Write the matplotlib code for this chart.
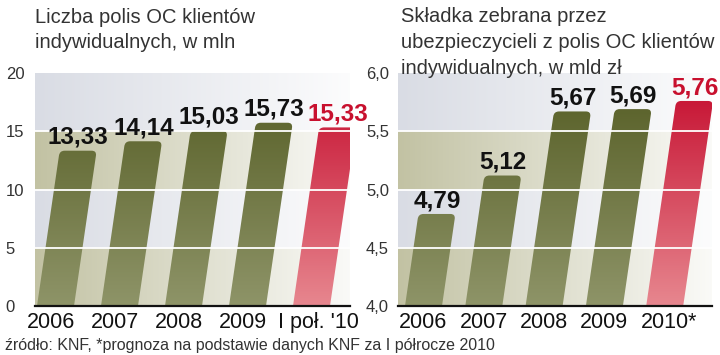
import numpy as np
import matplotlib.pyplot as plt
from matplotlib.path import Path
from matplotlib.patches import PathPatch
from matplotlib.colors import to_rgb

# dane
lata_lewy = ['2006', '2007', '2008', '2009', "I poł. '10"]
polisy = [13.33, 14.14, 15.03, 15.73, 15.33]
lata_prawy = ['2006', '2007', '2008', '2009', '2010*']
skladka = [4.79, 5.12, 5.67, 5.69, 5.76]
tyt_lewy = ['Liczba polis OC klientów', 'indywidualnych, w mln']
tyt_prawy = ['Składka zebrana przez', 'ubezpieczycieli z polis OC klientów',
             'indywidualnych, w mld zł']
zrodlo = 'źródło: KNF, *prognoza na podstawie danych KNF za I półrocze 2010'

FONT = ['Liberation Sans', 'DejaVu Sans']
W, H = 720, 355

fig = plt.figure(figsize=(7.2, 3.55), dpi=100)


def bar_path(x0, w, y0, v, s, rx, ry):
    xr = x0 + w + s * (1 - ry / (v - y0))
    xl = x0 + s * (1 - ry / (v - y0))
    verts = [(x0, y0), (x0 + w, y0), (xr, v - ry), (x0 + w + s, v),
             (x0 + w + s - rx, v), (x0 + s + rx, v), (x0 + s, v),
             (xl, v - ry), (x0, y0)]
    codes = [Path.MOVETO, Path.LINETO, Path.LINETO, Path.CURVE3, Path.CURVE3,
             Path.LINETO, Path.CURVE3, Path.CURVE3, Path.CLOSEPOLY]
    return Path(verts, codes)


def gradient(top, bottom, n=200):
    t = np.linspace(0, 1, n)[:, None]
    a, b = np.array(to_rgb(bottom)), np.array(to_rgb(top))
    return (a * (1 - t) + b * t)[:, None, :]


def fmt2(v):
    return f'{v:.2f}'.replace('.', ',')


def fmt1(v):
    return f'{v:.1f}'.replace('.', ',')


def fmt0(v):
    return f'{v:g}'


def panel(left_px, width_px, pitch_px, bar0_px, cats, vals, ymin, ymax, step,
          tickfmt, ypad, xshift_px, last_shift_px):
    ax = fig.add_axes([left_px / W, 49 / H, width_px / W, 233 / H])
    xlim = ((left_px - bar0_px) / pitch_px, (left_px + width_px - bar0_px) / pitch_px)
    ax.set_xlim(*xlim)
    ax.set_ylim(ymin, ymax)
    ext = [xlim[0], xlim[1], ymin, ymax]

    # tlo: poziome pasy blednace w prawo
    ny, nx = 400, 300
    yy = np.linspace(ymin, ymax, ny, endpoint=False)[:, None]
    band = np.floor((yy - ymin) / step + 1e-9).astype(int)
    olive = np.array(to_rgb('#c2c2a3'))
    blue = np.array(to_rgb('#d9dce4'))
    base = np.where((band % 2 == 0)[..., None], olive, blue)
    t = np.linspace(0, 1, nx)[None, :, None] * 0.92
    bg = base * (1 - t) + np.ones(3) * t
    ax.imshow(bg, extent=ext, origin='lower', aspect='auto', zorder=0)

    w = 37 / pitch_px
    k = 34 / pitch_px
    rx = 5 / pitch_px
    ry = 5 / 233 * (ymax - ymin)
    for i, v in enumerate(vals):
        red = i == len(vals) - 1
        s = k * (v - ymin) / (ymax - ymin)
        patch = PathPatch(bar_path(i, w, ymin, v, s, rx, ry), facecolor='none',
                          edgecolor='none', transform=ax.transData)
        ax.add_patch(patch)
        g = gradient('#c40a2c', '#e7878f') if red else gradient('#545c23', '#8e9468')
        im = ax.imshow(g, extent=ext, origin='lower', aspect='auto', zorder=2)
        im.set_clip_path(patch)
        ax.annotate(fmt2(v), (i + s + w / 2, v), xytext=(0, 5), textcoords='offset points',
                    ha='center', va='baseline', fontsize=17.5, fontweight='bold',
                    family=FONT, color='#c8102e' if red else '#111111',
                    annotation_clip=False, zorder=5)

    ticks = np.arange(ymin, ymax + step / 2, step)
    for y in ticks[1:-1]:
        ax.axhline(y, color='white', lw=1.3, zorder=4)

    for sp in ['top', 'right', 'left']:
        ax.spines[sp].set_visible(False)
    ax.spines['bottom'].set_linewidth(1.6)
    ax.spines['bottom'].set_color('#111111')
    ax.spines['bottom'].set_zorder(6)

    xt = [i + w / 2 + xshift_px / pitch_px for i in range(len(cats))]
    xt[-1] += last_shift_px / pitch_px
    ax.set_xticks(xt)
    ax.set_xticklabels(cats, fontsize=15.5, family=FONT, color='#111111')
    ax.set_yticks(ticks)
    ax.set_yticklabels([tickfmt(y) for y in ticks], fontsize=12, family=FONT,
                       color='#333333', ha='left')
    ax.tick_params(axis='x', length=0, pad=4)
    ax.tick_params(axis='y', length=0, pad=ypad)
    return ax


panel(35, 315, 64, 37, lata_lewy, polisy, 0, 20, 5, fmt0, 21, -5, 12)
panel(398, 314, 60.3, 405, lata_prawy, skladka, 4.0, 6.0, 0.5, fmt1, 23, 0, 4)

for j, line in enumerate(tyt_lewy):
    fig.text(35 / W, 1 - (23 + 25 * j) / H, line, fontsize=14.5, family=FONT,
             color='#333333', va='baseline')
for j, line in enumerate(tyt_prawy):
    fig.text(401 / W, 1 - (22 + 26 * j) / H, line, fontsize=14.5, family=FONT,
             color='#333333', va='baseline', zorder=10)

fig.text(5 / W, 1 - 350 / H, zrodlo, fontsize=11.5, family=FONT, color='#333333',
         va='baseline')

fig.savefig('out.png', dpi=100)
